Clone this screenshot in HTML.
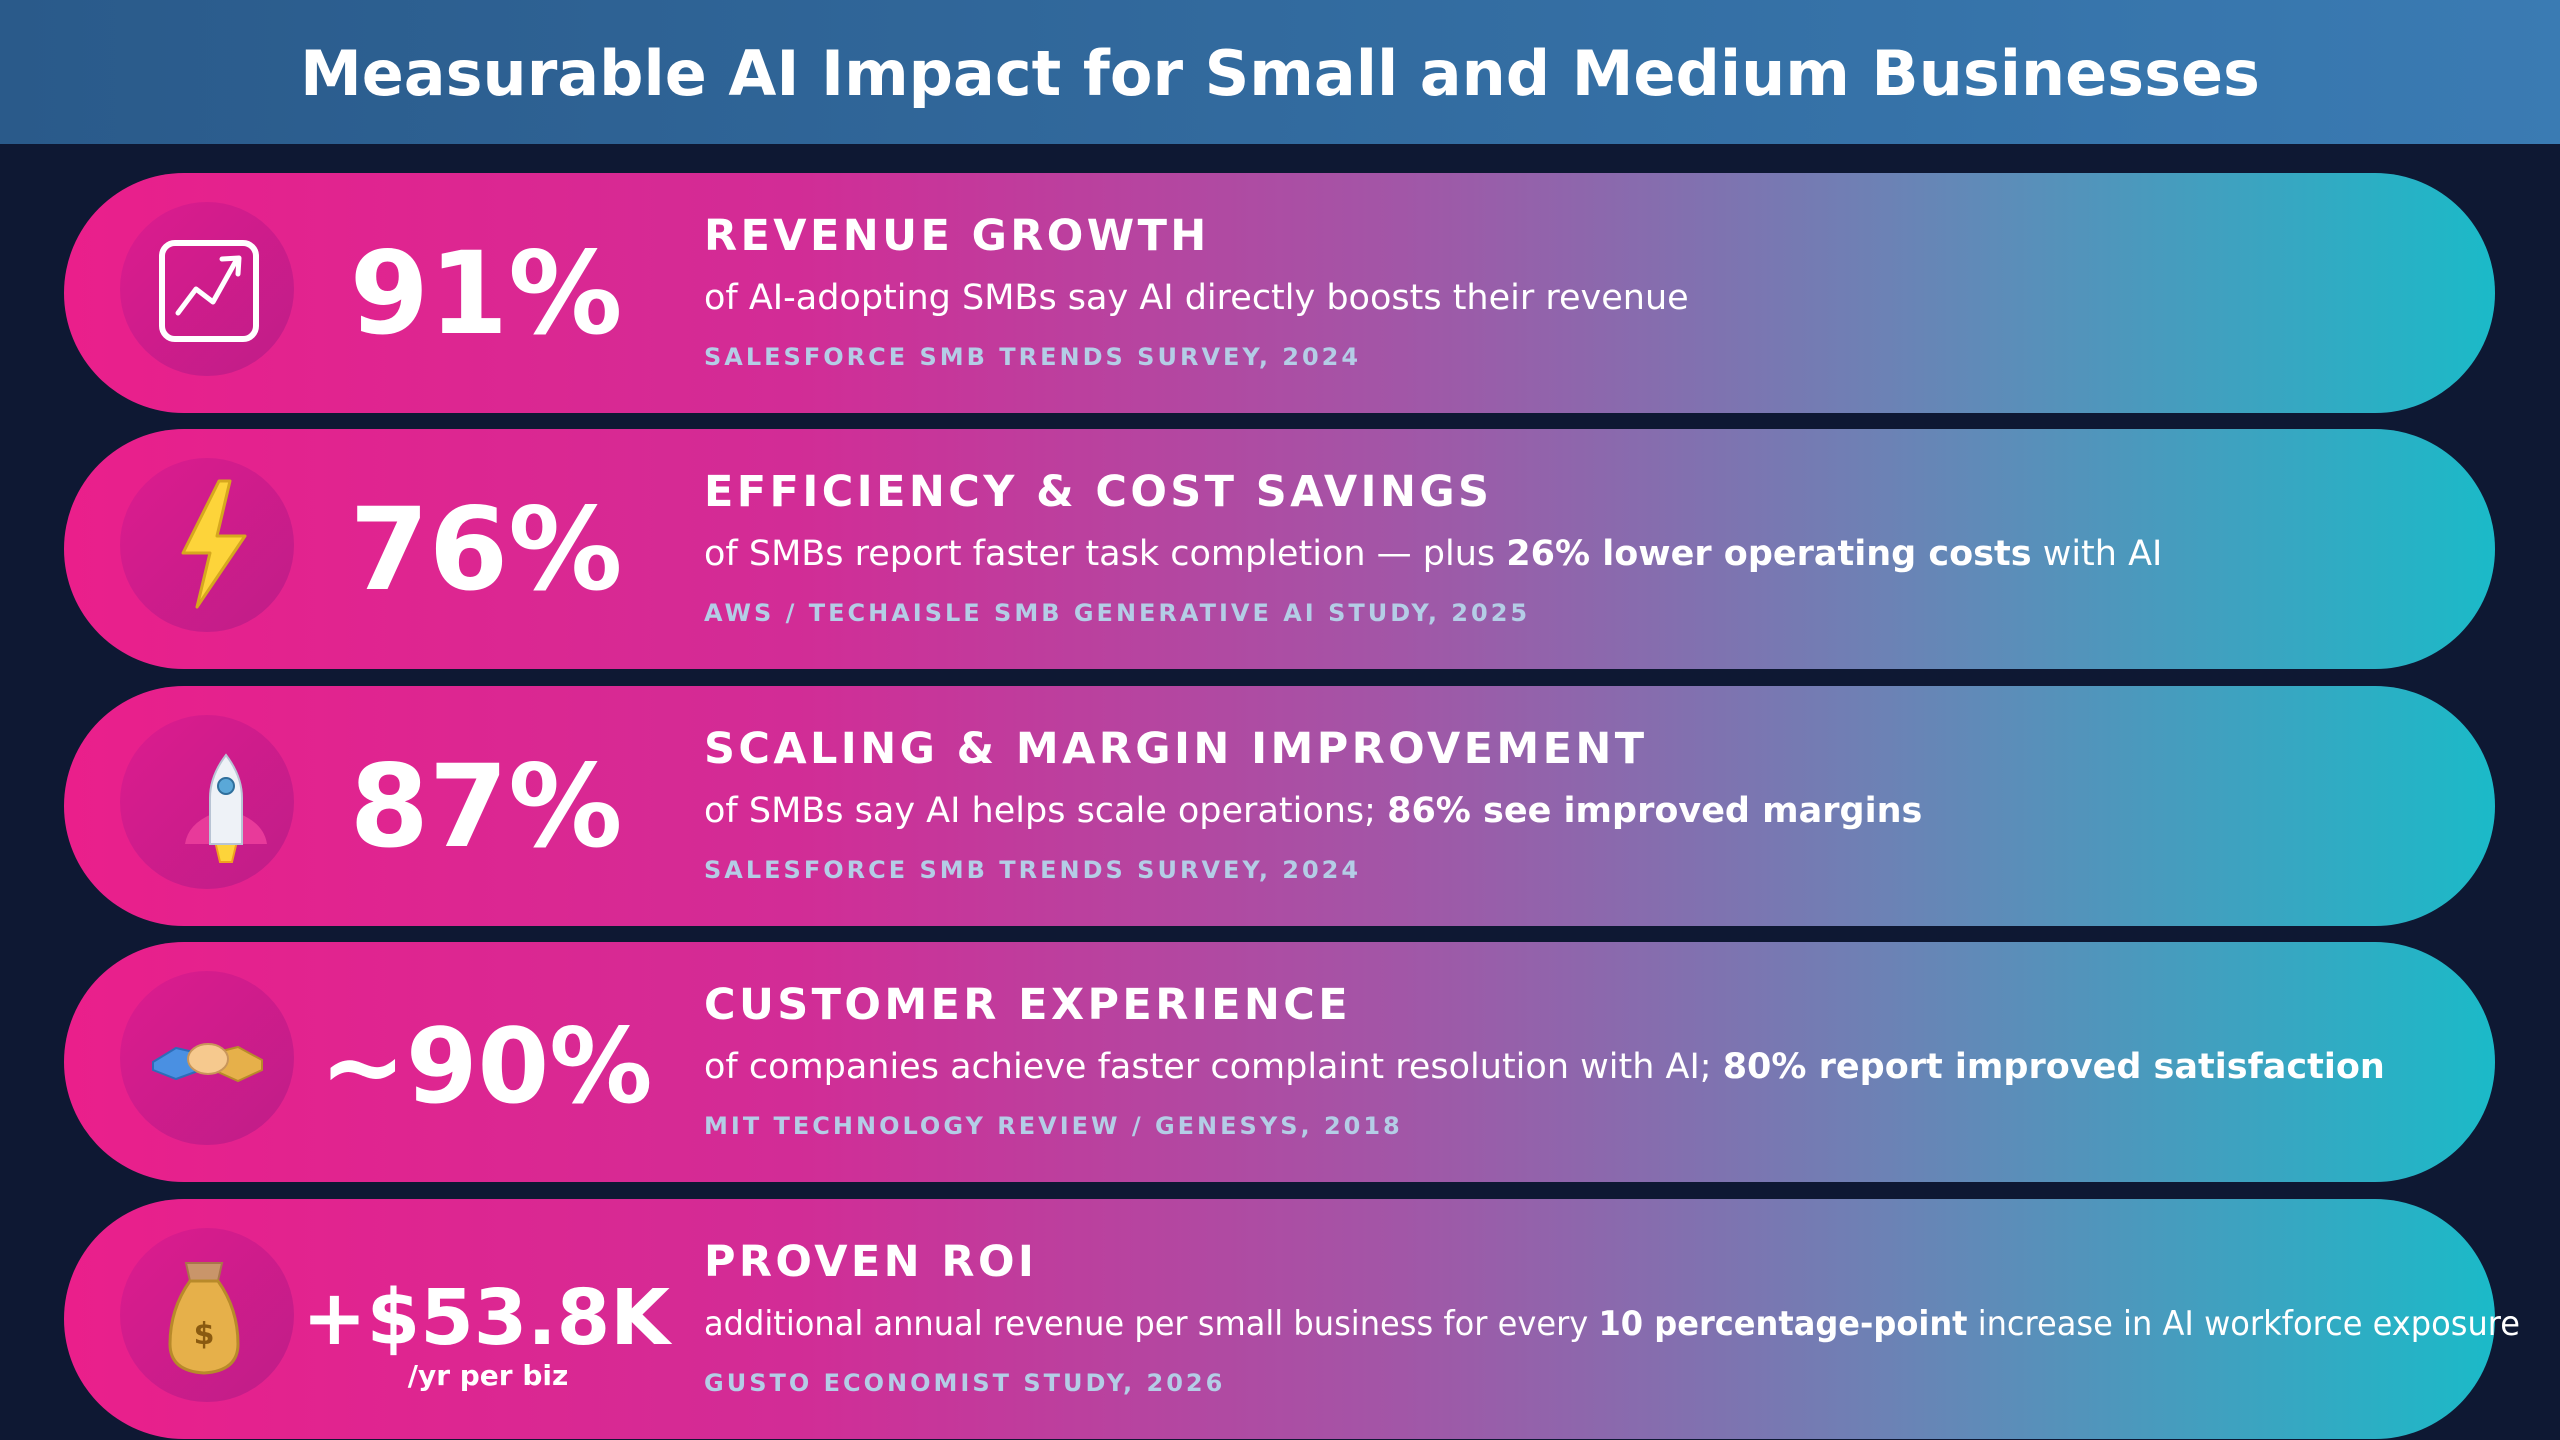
<!DOCTYPE html>
<html><head><meta charset="utf-8"><style>
html,body{margin:0;padding:0;background:#0e1833;}
svg{display:block;}
text{font-family:"DejaVu Sans","Liberation Sans",sans-serif;}
</style></head><body>
<svg width="2560" height="1440" viewBox="0 0 2560 1440" xmlns="http://www.w3.org/2000/svg">
<defs>
<linearGradient id="hdr" x1="0" x2="1" y1="0" y2="0"><stop offset="0" stop-color="#2a5a8a"/><stop offset="1" stop-color="#3a7bb3"/></linearGradient>
<linearGradient id="pill" x1="64" x2="2495" y1="0" y2="0" gradientUnits="userSpaceOnUse">
<stop offset="0" stop-color="#ea1f8b"/><stop offset="0.3" stop-color="#d22c96"/><stop offset="0.55" stop-color="#a256a7"/><stop offset="0.75" stop-color="#6c82b5"/><stop offset="1" stop-color="#1bbac8"/></linearGradient>
<linearGradient id="circ" x1="0" x2="1" y1="0" y2="1"><stop offset="0" stop-color="#dc1c8e"/><stop offset="1" stop-color="#bf1d88"/></linearGradient>
</defs>
<rect width="2560" height="1440" fill="#0e1833"/>
<rect width="2560" height="144" fill="url(#hdr)"/>
<text x="1280" y="95" text-anchor="middle" font-size="62" font-weight="bold" fill="#fff">Measurable AI Impact for Small and Medium Businesses</text>

<!-- Row 1 -->
<g transform="translate(0,173)">
<rect x="64" y="0" width="2431" height="240" rx="120" fill="url(#pill)"/>
<circle cx="207" cy="116" r="87" fill="url(#circ)"/>
<rect x="162" y="70" width="94" height="96" rx="13" fill="none" stroke="#fff" stroke-width="6"/>
<polyline points="178,140 196,116 213,129 237,86" fill="none" stroke="#fff" stroke-width="5" stroke-linecap="round" stroke-linejoin="round"/>
<polyline points="222,86 239,85 238,101" fill="none" stroke="#fff" stroke-width="5" stroke-linecap="round" stroke-linejoin="round"/>
<text x="486" y="160" text-anchor="middle" font-size="114" font-weight="bold" fill="#fff">91%</text>
<text x="704" y="77" font-size="43" font-weight="bold" fill="#fff" letter-spacing="3.4">REVENUE GROWTH</text>
<text x="704" y="136" font-size="35" fill="#fff">of AI-adopting SMBs say AI directly boosts their revenue</text>
<text x="704" y="192" font-size="24" font-weight="bold" fill="#b4cde6" letter-spacing="3">SALESFORCE SMB TRENDS SURVEY, 2024</text>
</g>

<!-- Row 2 -->
<g transform="translate(0,429)">
<rect x="64" y="0" width="2431" height="240" rx="120" fill="url(#pill)"/>
<circle cx="207" cy="116" r="87" fill="url(#circ)"/>
<polygon points="219,52 230,52 217,107 245,107 197,178 210,124 183,124" fill="#fdd43a" stroke="#d6a81e" stroke-width="3" stroke-linejoin="round"/>
<text x="486" y="160" text-anchor="middle" font-size="114" font-weight="bold" fill="#fff">76%</text>
<text x="704" y="77" font-size="43" font-weight="bold" fill="#fff" letter-spacing="3.4">EFFICIENCY &amp; COST SAVINGS</text>
<text x="704" y="136" font-size="35" fill="#fff">of SMBs report faster task completion — plus <tspan font-weight="bold">26% lower operating costs</tspan> with AI</text>
<text x="704" y="192" font-size="24" font-weight="bold" fill="#b4cde6" letter-spacing="3">AWS / TECHAISLE SMB GENERATIVE AI STUDY, 2025</text>
</g>

<!-- Row 3 -->
<g transform="translate(0,686)">
<rect x="64" y="0" width="2431" height="240" rx="120" fill="url(#pill)"/>
<circle cx="207" cy="116" r="87" fill="url(#circ)"/>
<path d="M212,128 Q188,138 185,158 L212,158 Z" fill="#e83a9a"/>
<path d="M240,128 Q264,138 267,158 L240,158 Z" fill="#e83a9a"/>
<polygon points="215,155 237,155 232,176 220,176" fill="#fdd43a" stroke="#f0a020" stroke-width="2"/>
<path d="M226,69 Q242,90 242,112 L242,158 L210,158 L210,112 Q210,90 226,69 Z" fill="#eef2f7" stroke="#b8c4d4" stroke-width="2"/>
<circle cx="226" cy="100" r="8" fill="#5aa8d8" stroke="#2f6f9c" stroke-width="2"/>
<text x="486" y="160" text-anchor="middle" font-size="114" font-weight="bold" fill="#fff">87%</text>
<text x="704" y="77" font-size="43" font-weight="bold" fill="#fff" letter-spacing="3.4">SCALING &amp; MARGIN IMPROVEMENT</text>
<text x="704" y="136" font-size="35" fill="#fff">of SMBs say AI helps scale operations; <tspan font-weight="bold">86% see improved margins</tspan></text>
<text x="704" y="192" font-size="24" font-weight="bold" fill="#b4cde6" letter-spacing="3">SALESFORCE SMB TRENDS SURVEY, 2024</text>
</g>

<!-- Row 4 -->
<g transform="translate(0,942)">
<rect x="64" y="0" width="2431" height="240" rx="120" fill="url(#pill)"/>
<circle cx="207" cy="116" r="87" fill="url(#circ)"/>
<polygon points="153,120 176,106 198,111 198,129 176,137 153,128" fill="#4a90e2" stroke="#2e6cb8" stroke-width="2"/>
<polygon points="218,110 238,105 262,118 262,128 238,139 218,130" fill="#e6b04a" stroke="#b88a2a" stroke-width="2"/>
<ellipse cx="208" cy="117" rx="20" ry="15" fill="#f6c98e" stroke="#c9965a" stroke-width="2"/>
<text x="486" y="160" text-anchor="middle" font-size="103" font-weight="bold" fill="#fff">~90%</text>
<text x="704" y="77" font-size="43" font-weight="bold" fill="#fff" letter-spacing="3.4">CUSTOMER EXPERIENCE</text>
<text x="704" y="136" font-size="35" fill="#fff">of companies achieve faster complaint resolution with AI; <tspan font-weight="bold">80% report improved satisfaction</tspan></text>
<text x="704" y="192" font-size="24" font-weight="bold" fill="#b4cde6" letter-spacing="3">MIT TECHNOLOGY REVIEW / GENESYS, 2018</text>
</g>

<!-- Row 5 -->
<g transform="translate(0,1199)">
<rect x="64" y="0" width="2431" height="240" rx="120" fill="url(#pill)"/>
<circle cx="207" cy="116" r="87" fill="url(#circ)"/>
<polygon points="186,64 222,64 218,82 190,82" fill="#c9956a" stroke="#a8764a" stroke-width="2"/>
<path d="M190,82 L218,82 Q238,110 238,145 Q238,172 204,174 Q170,172 170,145 Q170,110 190,82 Z" fill="#e6b04a" stroke="#b88a2a" stroke-width="3"/>
<text x="204" y="145" text-anchor="middle" font-size="30" font-weight="bold" fill="#8a5a10">$</text>
<text x="486" y="145" text-anchor="middle" font-size="77" font-weight="bold" fill="#fff">+$53.8K</text>
<text x="488" y="186" text-anchor="middle" font-size="28" font-weight="bold" fill="#fff">/yr per biz</text>
<text x="704" y="77" font-size="43" font-weight="bold" fill="#fff" letter-spacing="3.4">PROVEN ROI</text>
<text x="704" y="136" font-size="34" fill="#fff" textLength="1816" lengthAdjust="spacingAndGlyphs">additional annual revenue per small business for every <tspan font-weight="bold">10 percentage-point</tspan> increase in AI workforce exposure</text>
<text x="704" y="192" font-size="24" font-weight="bold" fill="#b4cde6" letter-spacing="3">GUSTO ECONOMIST STUDY, 2026</text>
</g>
</svg>
</body></html>
